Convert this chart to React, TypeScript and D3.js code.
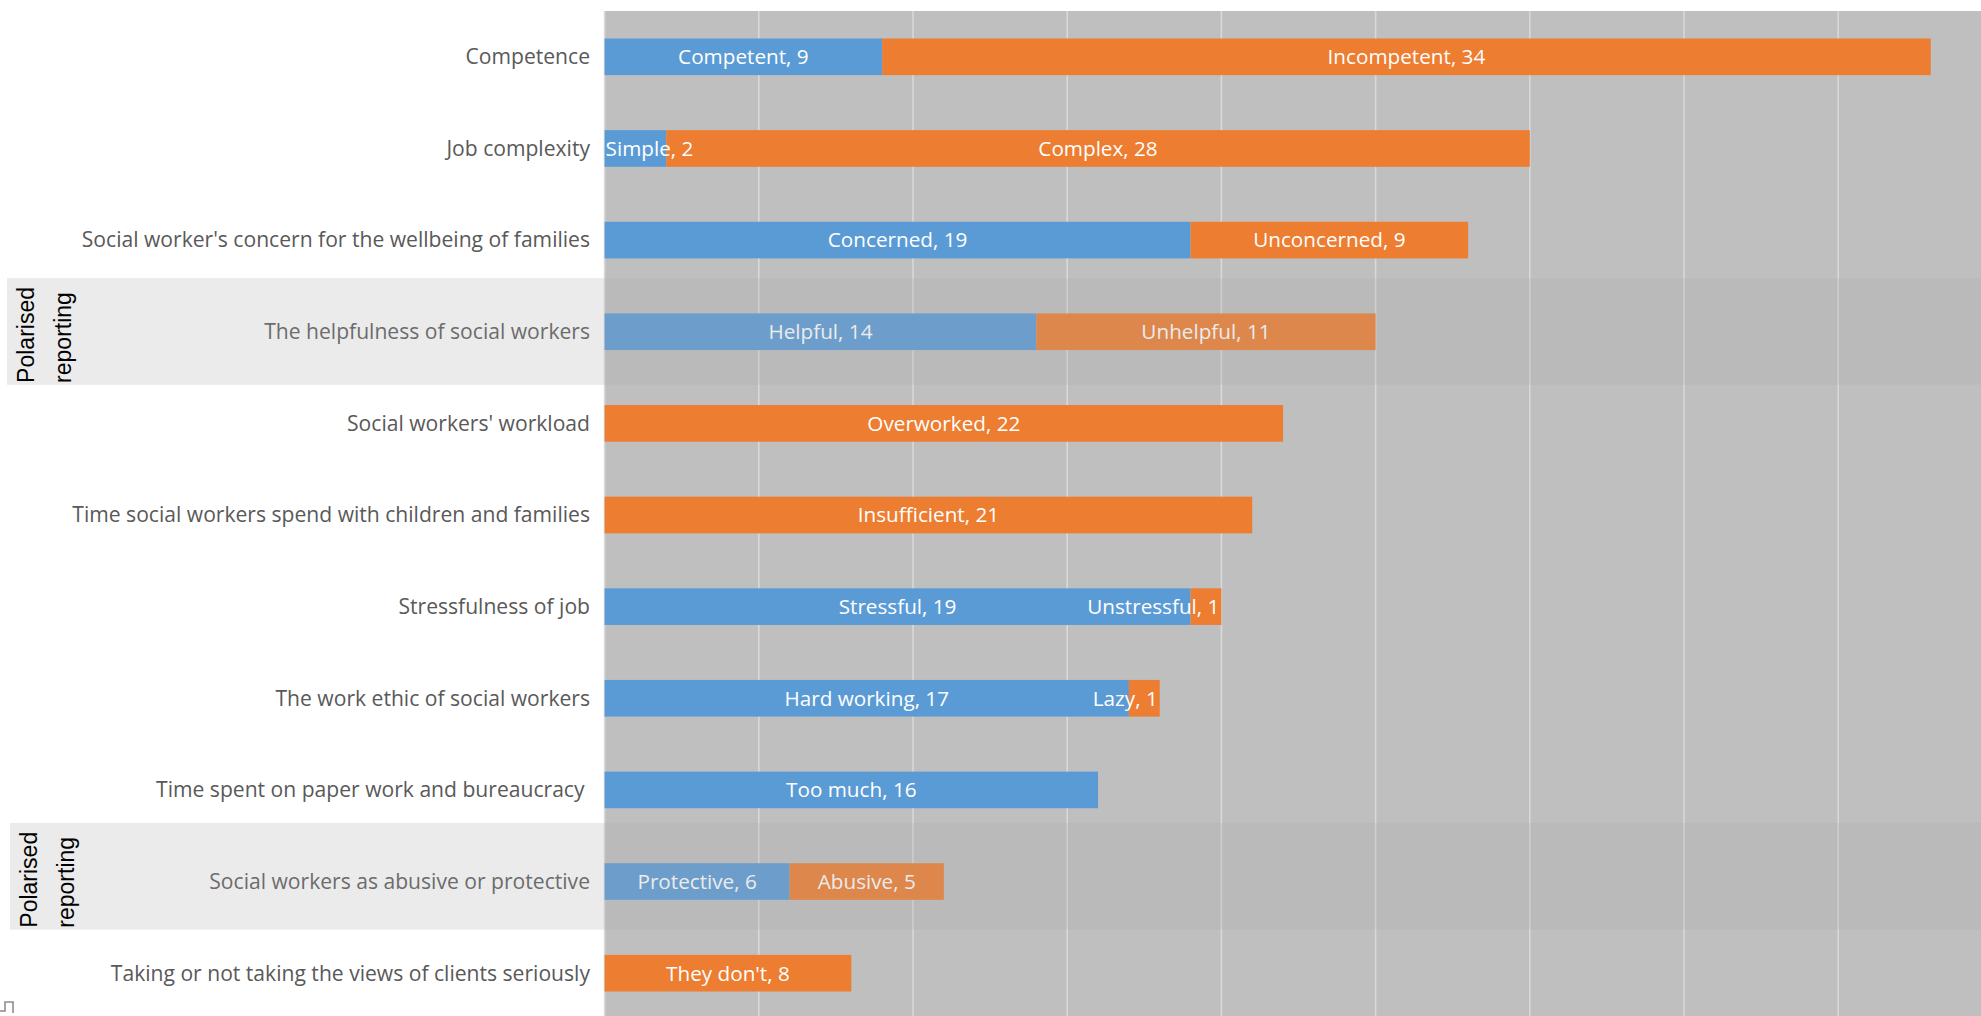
import React from "react";
import * as d3 from "d3";

const categories = [
  "Competence",
  "Job complexity",
  "Social worker's concern for the wellbeing of families",
  "The helpfulness of social workers",
  "Social workers' workload",
  "Time social workers spend with children and families",
  "Stressfulness of job",
  "The work ethic of social workers",
  "Time spent on paper work and bureaucracy ",
  "Social workers as abusive or protective",
  "Taking or not taking the views of clients seriously",
];
const firstLabels = ["Competent", "Simple", "Concerned", "Helpful", "", "", "Stressful", "Hard working", "Too much", "Protective", ""];
const firstValues = [9, 2, 19, 14, 0, 0, 19, 17, 16, 6, 0];
const secondLabels = ["Incompetent", "Complex", "Unconcerned", "Unhelpful", "Overworked", "Insufficient", "Unstressful", "Lazy", "", "Abusive", "They don't"];
const secondValues = [34, 28, 9, 11, 22, 21, 1, 1, 0, 5, 8];
const xTicks = [0, 5, 10, 15, 20, 25, 30, 35, 40, 45];
const groupRows = [3, 9];
const groupLines = ["Polarised", "reporting"];

const W = 1981;
const H = 1016;
const FONT = "'Open Sans', sans-serif";
const FS = 21.1;
const LFS = 20.7;

let ctx: CanvasRenderingContext2D | null = null;
function textWidth(s: string) {
  if (!ctx) ctx = document.createElement("canvas").getContext("2d");
  if (!ctx) return s.length * LFS * 0.5;
  ctx.font = `${LFS}px 'Open Sans'`;
  return ctx.measureText(s).width;
}

export default function App() {
  const x = d3.scaleLinear().domain([0, 45]).range([604.6, 1992.4]);
  const y = d3
    .scaleBand<string>()
    .domain(categories)
    .range([11, 1019])
    .paddingInner(0.6)
    .paddingOuter(0.3);
  const bw = y.bandwidth();
  const step = y.step();
  const cy = (i: number) => (y(categories[i]) as number) + bw / 2;

  const segments: any[] = [];
  categories.forEach((c, i) => {
    const total = firstValues[i] + secondValues[i];
    const parts = [
      { label: firstLabels[i], v0: 0, v1: firstValues[i], color: "#5b9bd5" },
      { label: secondLabels[i], v0: firstValues[i], v1: total, color: "#ed7d31" },
    ];
    parts.forEach((p, k) => {
      if (p.v1 - p.v0 <= 0) return;
      const text = `${p.label}, ${p.v1 - p.v0}`;
      const w = textWidth(text);
      let mid = (x(p.v0) + x(p.v1)) / 2;
      const minL = x(0) + 1;
      const maxR = x(total) - 2;
      if (mid + w / 2 > maxR) mid = maxR - w / 2;
      if (mid - w / 2 < minL) mid = minL + w / 2;
      segments.push({ key: `${i}-${k}`, i, ...p, text, mid });
    });
  });

  return (
    <svg
      width={W}
      height={H}
      style={{ position: "absolute", left: 0, top: 0, display: "block", background: "#ffffff" }}
    >
      <rect x={x(0)} y={11} width={W - x(0)} height={H - 11} fill="#bfbfbf" />
      {xTicks.map((t) => (
        <line key={t} x1={x(t)} x2={x(t)} y1={11} y2={H} stroke="#d9d9d9" strokeWidth={1.6} />
      ))}
      {segments.map((s) => (
        <rect
          key={"r" + s.key}
          x={x(s.v0)}
          y={y(categories[s.i])}
          width={x(s.v1) - x(s.v0)}
          height={bw}
          fill={s.color}
        />
      ))}
      {segments.map((s) => (
        <text
          key={"t" + s.key}
          x={s.mid}
          y={cy(s.i) + 7.4}
          textAnchor="middle"
          fontFamily={FONT}
          fontSize={LFS}
          fill="#ffffff"
        >
          {s.text}
        </text>
      ))}
      {categories.map((c, i) => (
        <text
          key={c}
          x={590}
          y={cy(i) + 7.4}
          textAnchor="end"
          fontFamily={FONT}
          fontSize={FS}
          fill="#595959"
          style={{ whiteSpace: "pre" }}
        >
          {c}
        </text>
      ))}
      {groupRows.map((r, gi) => {
        const dy = gi === 0 ? 0 : -5;
        const top = cy(r) - step * 0.585 + dy;
        const bot = cy(r) + step * 0.58 + dy;
        const dx = gi === 0 ? 0 : 3;
        return (
          <g key={r}>
            <rect x={7 + dx} y={top} width={W} height={bot - top} fill="rgb(170,170,170)" fillOpacity={0.234} />
            {groupLines.map((ln, li) => (
              <text
                key={ln}
                transform={`translate(${34 + dx + li * 37},${bot - 2}) rotate(-90)`}
                fontFamily="'Liberation Sans', Arial, sans-serif"
                fontSize={23}
                fill="#000000"
              >
                {ln}
              </text>
            ))}
          </g>
        );
      })}
      <path d="M0,1011 L5,1011 L5,1002 L13,1002 L13,1013" fill="none" stroke="#8c8c8c" strokeWidth={1.6} />
    </svg>
  );
}
